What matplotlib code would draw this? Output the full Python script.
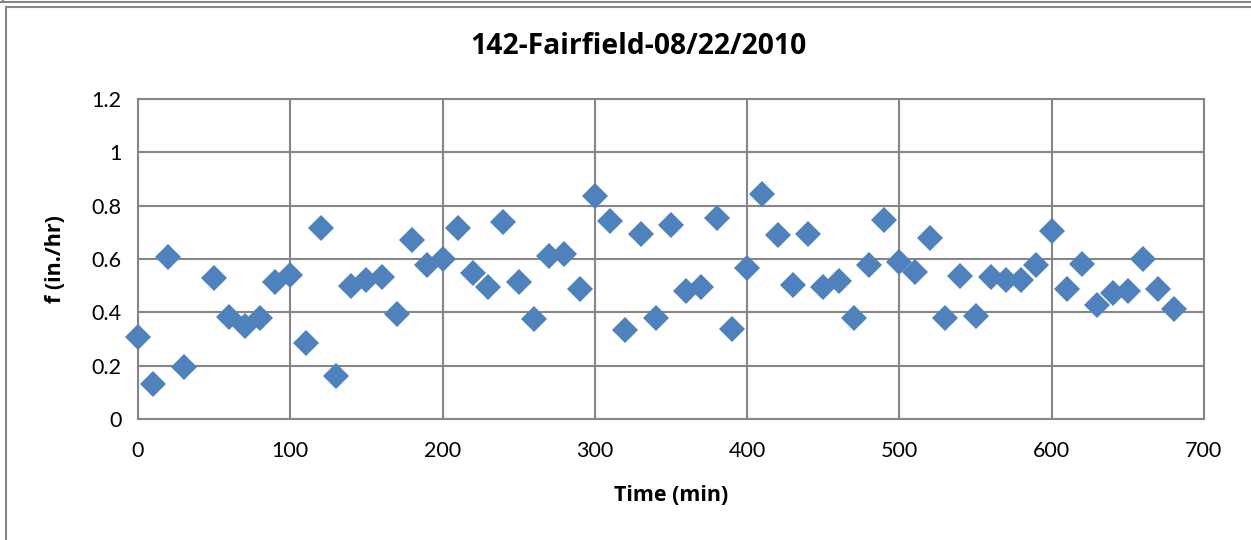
import matplotlib.pyplot as plt
from matplotlib.lines import Line2D

# time (min) and infiltration rate f (in./hr)
time_min = [0, 10, 20, 30, 50, 60, 70, 80, 90, 100,
            110, 120, 130, 140, 150, 160, 170, 180, 190, 200,
            210, 220, 230, 240, 250, 260, 270, 280, 290, 300,
            310, 320, 330, 340, 350, 360, 370, 380, 390, 400,
            410, 420, 430, 440, 450, 460, 470, 480, 490, 500,
            510, 520, 530, 540, 550, 560, 570, 580, 590, 600,
            610, 620, 630, 640, 650, 660, 670, 680]
f_rate = [0.306, 0.130, 0.608, 0.195, 0.527, 0.384, 0.348, 0.379, 0.513, 0.540,
          0.286, 0.717, 0.160, 0.497, 0.521, 0.534, 0.394, 0.673, 0.579, 0.601,
          0.718, 0.549, 0.494, 0.740, 0.514, 0.374, 0.610, 0.618, 0.488, 0.835,
          0.744, 0.335, 0.692, 0.377, 0.726, 0.481, 0.496, 0.755, 0.338, 0.566,
          0.843, 0.690, 0.501, 0.692, 0.494, 0.517, 0.378, 0.579, 0.748, 0.590,
          0.552, 0.677, 0.377, 0.536, 0.386, 0.534, 0.523, 0.521, 0.579, 0.705,
          0.487, 0.582, 0.426, 0.471, 0.481, 0.600, 0.487, 0.413]

xticks = [0, 100, 200, 300, 400, 500, 600, 700]
yticks = [0, 0.2, 0.4, 0.6, 0.8, 1, 1.2]
ytick_labels = ['0', '0.2', '0.4', '0.6', '0.8', '1', '1.2']

plt.rcParams['font.family'] = ['Lato', 'DejaVu Sans']
bold_font = ['Open Sans', 'DejaVu Sans']
grid_col = '#868686'

fig = plt.figure(figsize=(12.51, 5.40), dpi=100)
ax = fig.add_axes([138 / 1251, 1 - 419 / 540, (1204 - 138) / 1251, (419 - 99) / 540])

ax.plot(time_min, f_rate, linestyle='none', marker='D', markersize=13.5,
        color='#4F81BD', markeredgewidth=0, zorder=3, clip_on=False)

ax.set_xlim(0, 700)
ax.set_ylim(0, 1.2)
ax.set_xticks(xticks)
ax.set_yticks(yticks)
ax.set_yticklabels(ytick_labels)
ax.tick_params(length=0, labelsize=15.5, pad=12, colors='black')
ax.tick_params(axis='x', pad=16)
ax.grid(True, color=grid_col, linewidth=1.5)
ax.set_axisbelow(True)
for s in ax.spines.values():
    s.set_color(grid_col)
    s.set_linewidth(1.5)

ax.set_xlabel('Time (min)', fontsize=15.5, fontweight='bold', family=bold_font, labelpad=17)
ax.set_ylabel('f (in./hr)', fontsize=15.5, fontweight='bold', family=bold_font, labelpad=18)
fig.text(638 / 1251, 1 - 47 / 540, '142-Fairfield-08/22/2010', fontsize=20.3,
         fontweight='bold', family=bold_font, ha='center', va='center')

# outer chart frame
fig.add_artist(Line2D([0, 1], [1 - 2 / 540, 1 - 2 / 540], color=grid_col, lw=1.5))
fig.add_artist(Line2D([3 / 1251, 3 / 1251], [1 - 2 / 540, 1], color=grid_col, lw=1.5))
fig.add_artist(Line2D([6 / 1251, 1], [1 - 7 / 540, 1 - 7 / 540], color=grid_col, lw=1.5))
fig.add_artist(Line2D([6 / 1251, 6 / 1251], [0, 1 - 7 / 540], color=grid_col, lw=1.5))

fig.savefig('out.png', dpi=100)
